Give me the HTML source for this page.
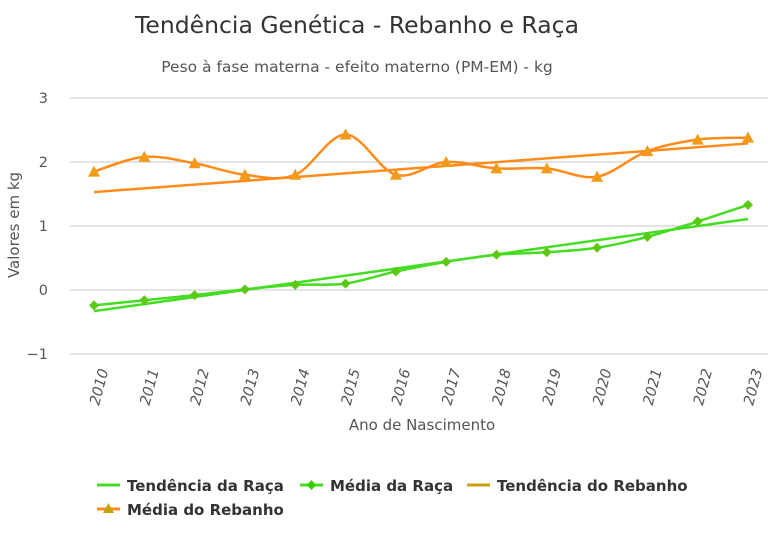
<!DOCTYPE html>
<html><head><meta charset="utf-8"><style>
body{margin:0;background:#fff;font-family:"DejaVu Sans","Liberation Sans",sans-serif;}
svg text{font-family:"DejaVu Sans","Liberation Sans",sans-serif;}
</style></head><body>
<svg id="c" width="768" height="539">
<text x="357" y="33" font-size="23.5" fill="#333" text-anchor="middle">Tendência Genética - Rebanho e Raça</text>
<text x="357" y="72" font-size="15.5" fill="#555" text-anchor="middle">Peso à fase materna - efeito materno (PM-EM) - kg</text>
<text transform="translate(19,225) rotate(-90)" font-size="15" fill="#555" text-anchor="middle">Valores em kg</text>
<text x="422" y="430" font-size="15" fill="#555" text-anchor="middle">Ano de Nascimento</text>
<g id="grid"></g><g id="series"></g>
<g font-size="15" font-weight="bold" fill="#333">
<g><line x1="97" y1="485" x2="120" y2="485" stroke="#44dd22" stroke-width="3"/><text x="127" y="491">Tendência da Raça</text></g>
<g><line x1="300" y1="485" x2="323" y2="485" stroke="#44dd22" stroke-width="3"/><path d="M311.5 480 L316 485 L311.5 490 L307 485Z" fill="#33cc00"/><text x="330" y="491">Média da Raça</text></g>
<g><line x1="467" y1="485" x2="490" y2="485" stroke="#c8a010" stroke-width="3"/><text x="497" y="491">Tendência do Rebanho</text></g>
<g><line x1="97" y1="509" x2="120" y2="509" stroke="#ff8c1a" stroke-width="3"/><path d="M108.5 503 L114 513 L103 513Z" fill="#c8a010"/><text x="127" y="515">Média do Rebanho</text></g>
</g>
</svg>
<script>
const years=[2010,2011,2012,2013,2014,2015,2016,2017,2018,2019,2020,2021,2022,2023];
const herdMean=[1.85,2.08,1.98,1.8,1.8,2.43,1.8,2.0,1.9,1.9,1.77,2.17,2.35,2.38];
const herdTrend=[1.53,2.29];
const breedMean=[-0.24,-0.16,-0.08,0.01,0.08,0.1,0.29,0.44,0.55,0.59,0.66,0.83,1.07,1.33];
const breedTrend=[-0.33,1.11];
const yTicks=[3,2,1,0,-1];
const NS="http://www.w3.org/2000/svg";
const xs=i=>94+i*(748-94)/(years.length-1);
const ys=v=>290-v*64;
function mk(t,a,p){const e=document.createElementNS(NS,t);for(const k in a)e.setAttribute(k,a[k]);p.appendChild(e);return e;}
const g=document.getElementById('grid'),s=document.getElementById('series');
yTicks.forEach(v=>{
 const l=mk('line',{x1:70,x2:768,y1:ys(v),y2:ys(v),stroke:'#c8c8c8','stroke-width':1},g);
 
 
 const t=mk('text',{x:48,y:ys(v)+5,'font-size':14.5,fill:'#555','text-anchor':'end'},g);
 t.textContent=v<0?'\u2212'+(-v):v;
 
 
});
years.forEach((y,i)=>{
 const t=mk('text',{transform:`translate(${xs(i)+5},406) rotate(-75)`,'font-size':14.5,fill:'#555','font-style':'italic'},g);
 t.textContent=y;
 
 
});
function smooth(pts){let d=`M${pts[0][0]},${pts[0][1]}`;for(let i=0;i<pts.length-1;i++){const p0=pts[Math.max(i-1,0)],p1=pts[i],p2=pts[i+1],p3=pts[Math.min(i+2,pts.length-1)];const c1=[p1[0]+(p2[0]-p0[0])/6,p1[1]+(p2[1]-p0[1])/6],c2=[p2[0]-(p3[0]-p1[0])/6,p2[1]-(p3[1]-p1[1])/6];d+=` C${c1[0]},${c1[1]} ${c2[0]},${c2[1]} ${p2[0]},${p2[1]}`;}return d;}
function trend(vals,color,name){const l=mk('line',{x1:xs(0),y1:ys(vals[0]),x2:xs(years.length-1),y2:ys(vals[1]),stroke:color,'stroke-width':2.5},s);
 
 }
trend(herdTrend,'#ff8c1a','herd-trend-line');
const hp=mk('path',{d:smooth(herdMean.map((v,i)=>[xs(i),ys(v)])),fill:'none',stroke:'#ff8c1a','stroke-width':2.5},s);


trend(breedTrend,'#44dd22','breed-trend-line');
const bp=mk('path',{d:smooth(breedMean.map((v,i)=>[xs(i),ys(v)])),fill:'none',stroke:'#44dd22','stroke-width':2.5},s);


herdMean.forEach((v,i)=>{const x=xs(i),y=ys(v);const m=mk('path',{d:`M${x} ${y-6} L${x+6} ${y+5} L${x-6} ${y+5}Z`,fill:'#f29a1a'},s);
 
 });
breedMean.forEach((v,i)=>{const x=xs(i),y=ys(v);const m=mk('path',{d:`M${x} ${y-5} L${x+5} ${y} L${x} ${y+5} L${x-5} ${y}Z`,fill:'#5cc814'},s);
 
 });
</script>
</body></html>
